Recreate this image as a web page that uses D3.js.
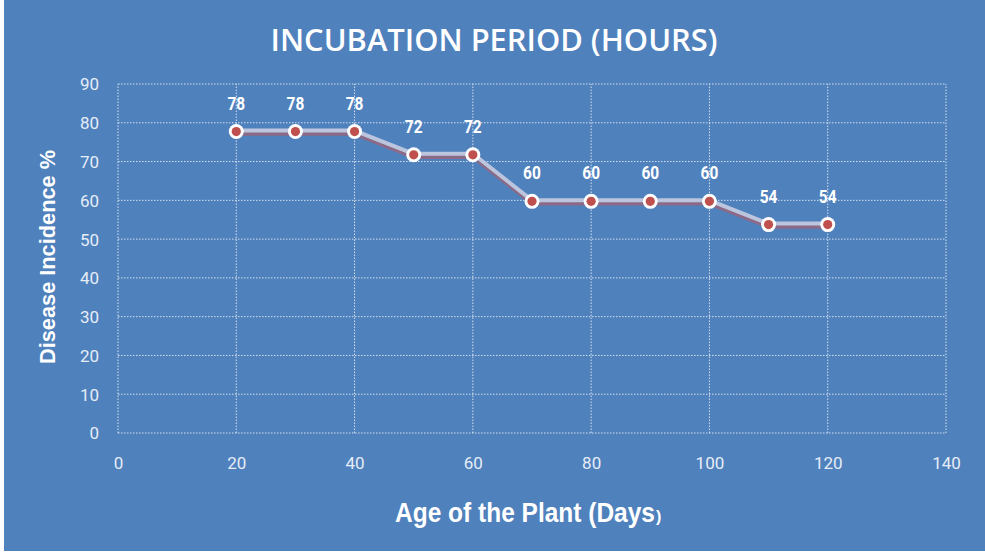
<!DOCTYPE html>
<html><head><meta charset="utf-8">
<script src="https://cdn.jsdelivr.net/npm/d3@7"></script>
<style>body{margin:0;background:#fff}svg{display:block}</style>
</head><body>
<script>
const ages = [20, 30, 40, 50, 60, 70, 80, 90, 100, 110, 120];
const incidence = [78, 78, 78, 72, 72, 60, 60, 60, 60, 54, 54];
const xTicks = [0, 20, 40, 60, 80, 100, 120, 140];
const yTicks = [0, 10, 20, 30, 40, 50, 60, 70, 80, 90];
const title = "INCUBATION PERIOD (HOURS)";
const xTitle = "Age of the Plant (Days";
const yTitle = "Disease Incidence %";

const W = 985, H = 554;
const svg = d3.select("body").append("svg").attr("width", W).attr("height", H);
svg.append("rect").attr("x", 4).attr("y", 0).attr("width", W - 4).attr("height", 551).attr("fill", "#4F81BD");

const x = d3.scaleLinear().domain([0, 140]).range([118, 946]);
const y = d3.scaleLinear().domain([0, 90]).range([433, 84]);
const grid = "rgba(255,255,255,0.75)";

const g = svg.append("g");
g.selectAll(".hg").data(yTicks).join("line")
  .attr("x1", x(0)).attr("x2", x(140)).attr("y1", d => y(d)).attr("y2", d => y(d))
  .attr("stroke", grid).attr("stroke-width", 1).attr("stroke-dasharray", "1.5,1.5");
g.selectAll(".vg").data(xTicks).join("line")
  .attr("x1", d => x(d)).attr("x2", d => x(d)).attr("y1", y(0)).attr("y2", y(90))
  .attr("stroke", grid).attr("stroke-width", 1).attr("stroke-dasharray", "1.5,1.5");

const yAxis = d3.axisLeft(y).tickValues(yTicks).tickSize(0).tickPadding(0);
const ya = svg.append("g").attr("transform", `translate(99,0)`).call(yAxis);
ya.select(".domain").remove();
ya.selectAll("text").attr("fill", "#e6edf7").style("font-family", "Roboto, sans-serif").style("font-size", "17px").attr("dy", "0.35em");

const xAxis = d3.axisBottom(x).tickValues(xTicks).tickSize(0).tickPadding(0);
const xa = svg.append("g").attr("transform", `translate(0,457)`).call(xAxis);
xa.select(".domain").remove();
xa.selectAll("text").attr("fill", "#e6edf7").style("font-family", "Roboto, sans-serif").style("font-size", "17px").attr("dy", "0.71em");

const data = ages.map((a, i) => ({a, v: incidence[i]}));
const line = d3.line().x(d => x(d.a)).y(d => y(d.v));
svg.append("path").datum(data).attr("d", line).attr("transform", "translate(0.5,3)")
  .attr("fill", "none").attr("stroke", "#8C6A87").attr("stroke-width", 4.5).attr("stroke-linejoin", "round");
svg.append("path").datum(data).attr("d", line)
  .attr("fill", "none").attr("stroke", "#BCC5DE").attr("stroke-width", 4).attr("stroke-linejoin", "round");

svg.selectAll(".mo").data(data).join("circle")
  .attr("cx", d => x(d.a)).attr("cy", d => y(d.v) + 1).attr("r", 7.5).attr("fill", "#fff");
svg.selectAll(".mi").data(data).join("circle")
  .attr("cx", d => x(d.a)).attr("cy", d => y(d.v) + 1).attr("r", 4.6).attr("fill", "#C0504D");

svg.selectAll(".lbl").data(data).join("text")
  .attr("x", d => x(d.a)).attr("y", d => y(d.v) - 21)
  .attr("text-anchor", "middle").attr("fill", "#fff")
  .style("font-family", "Roboto, sans-serif").style("font-weight", "bold").style("font-size", "18px")
  .attr("transform", d => `translate(${x(d.a)},0) scale(0.86,1) translate(${-x(d.a)},0)`)
  .text(d => d.v);

svg.append("text").attr("x", 494).attr("y", 51).attr("text-anchor", "middle").attr("fill", "#fff")
  .style("font-family", "'Open Sans', sans-serif").style("font-weight", "600").style("font-size", "31px")
  .attr("textLength", 447).attr("lengthAdjust", "spacingAndGlyphs")
  .text(title);

svg.append("text").attr("x", 395).attr("y", 522).attr("fill", "#fff")
  .style("font-family", "'Liberation Sans', Arial, sans-serif").style("font-weight", "bold").style("font-size", "27px")
  .attr("textLength", 260).attr("lengthAdjust", "spacingAndGlyphs")
  .text(xTitle);
svg.append("text").attr("x", 656).attr("y", 522).attr("fill", "#fff")
  .style("font-family", "'Liberation Sans', Arial, sans-serif").style("font-weight", "bold").style("font-size", "16px")
  .text(")");

svg.append("text").attr("transform", "translate(55,257) rotate(-90)").attr("text-anchor", "middle").attr("fill", "#fff")
  .style("font-family", "'Liberation Sans', Arial, sans-serif").style("font-weight", "bold").style("font-size", "22px")
  .attr("textLength", 214).attr("lengthAdjust", "spacingAndGlyphs")
  .text(yTitle);
</script>
</body></html>
